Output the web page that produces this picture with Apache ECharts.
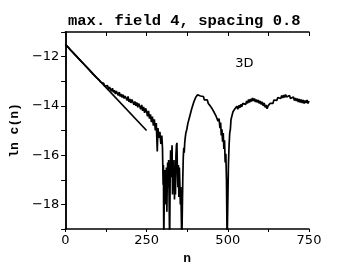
<!DOCTYPE html>
<html>
<head>
<meta charset="utf-8">
<script src="https://cdn.jsdelivr.net/npm/echarts@6/dist/echarts.min.js"></script>
<style>html,body{margin:0;padding:0;background:#fff}#c{width:360px;height:275px}</style>
</head>
<body>
<div id="c"></div>
<script>
const titleText = 'max. field 4, spacing 0.8';
const xName = 'n';
const yName = 'ln c(n)';
const annotation = '3D';
const annotationAt = [551, -12.3];
const xTicks = [0, 250, 500, 750];
const yTicks = [-18, -16, -14, -12];

const fitN = [0, 250];
const fitC = [-11.5, -15.0];

const curveN = [
0,5,10,15,20,25,30,35,40,45,50,55,60,65,70,75,80,85,90,95,
100,103,106,109,112,115,118,121,124,127,130,133,136,139,142,145,148,151,154,157,
160,163,166,169,172,175,178,181,184,187,190,193,196,199,202,205,208,211,214,217,
220,223,226,229,232,235,238,241,244,247,250,253,256,259,262,265,268,271,274,277,
280,283,285,288,291,294,297,299,
301,302,303,304.5,306,307,308.5,310,311,312.5,314,315,316.5,318,319.5,321,322.5,324,325.5,327,
328.5,330,331.5,333,334.5,336,337.5,339,340.5,342,343.5,345,346.5,348,349.5,351,352.5,354,355.5,357,
358.5,360,361.5,363,364.5,366,367.5,369,371,
374,377,380,383,386,389,392,395,398,401,404,407,410,413,416,419,422,425,428,431,
434,437,440,443,446,449,452,455,458,461,464,467,470,473,476,478,480,482,484,486,
488,490,492,494,496,498,500,502,504,506,508,510,513,516,519,522,525,528,531,534,
537,540,543,546,549,552,555,558,561,564,567,570,573,576,579,582,585,588,591,594,
597,600,603,606,609,612,615,618,621,624,627,630,633,636,639,642,645,648,651,654,
657,660,663,666,669,672,675,678,681,684,687,690,693,696,699,702,705,708,711,714,
717,720,723,726,729,732,735,738,741,744,747,750
];
const curveC = [
-11.50,-11.58,-11.63,-11.72,-11.77,-11.86,-11.91,-12.00,-12.05,-12.14,-12.19,-12.28,-12.33,-12.42,-12.47,-12.56,-12.60,-12.71,-12.74,-12.84,
-12.88,-12.93,-12.97,-13.04,-13.03,-13.12,-13.08,-13.20,-13.14,-13.27,-13.18,-13.33,-13.24,-13.30,-13.41,-13.28,-13.45,-13.36,-13.52,-13.40,
-13.47,-13.58,-13.44,-13.62,-13.52,-13.66,-13.55,-13.70,-13.60,-13.68,-13.78,-13.62,-13.84,-13.72,-13.88,-13.74,-13.80,-13.95,-13.82,-14.00,
-13.86,-14.06,-13.90,-13.98,-14.14,-13.96,-14.20,-14.04,-14.28,-14.10,-14.22,-14.42,-14.20,-14.52,-14.34,-14.66,-14.44,-14.80,-14.55,-15.00,
-14.70,-15.85,-14.90,-15.30,-15.05,-15.55,-15.20,-15.70,
-17.2,-16.4,-19.6,-17.8,-16.6,-18.0,-16.9,-17.6,-16.5,-18.3,-16.8,-16.3,-17.3,-16.2,-17.8,-19.6,-17.2,-15.8,-16.9,-16.1,
-15.6,-17.6,-16.4,-17.2,-16.2,-17.8,-16.7,-17.6,-16.0,-15.6,-15.5,-16.7,-17.3,-16.4,-17.7,-16.5,-17.2,-18.0,-17.3,-18.5,
-19.6,-19.6,-17.0,-16.1,-15.7,-15.9,-15.5,-15.3,-15.1,
-14.95,-14.72,-14.66,-14.42,-14.40,-14.12,-14.10,-13.86,-13.88,-13.66,-13.72,-13.55,-13.62,-13.48,-13.60,-13.52,-13.68,-13.62,-13.76,-13.68,
-13.84,-13.76,-13.90,-13.82,-14.00,-13.92,-14.12,-14.06,-14.26,-14.18,-14.42,-14.36,-14.62,-14.52,-14.90,-14.68,-15.20,-14.95,-15.45,-15.10,
-15.75,-15.40,-16.30,-15.95,-17.00,-19.60,-19.60,-16.40,-15.60,-15.10,-14.95,-14.55,-14.48,-14.24,-14.30,-14.12,-14.18,-14.02,-14.14,-13.98,
-14.08,-13.94,-14.04,-13.90,-13.98,-13.84,-13.94,-13.80,-13.90,-13.74,-13.86,-13.72,-13.82,-13.68,-13.80,-13.70,-13.84,-13.74,-13.86,-13.76,
-13.90,-13.80,-13.94,-13.84,-14.00,-13.88,-14.06,-13.96,-14.12,-14.00,-14.08,-13.90,-13.98,-13.82,-13.90,-13.76,-13.84,-13.70,-13.78,-13.66,
-13.74,-13.62,-13.70,-13.58,-13.68,-13.56,-13.66,-13.54,-13.64,-13.56,-13.68,-13.58,-13.70,-13.62,-13.74,-13.64,-13.78,-13.68,-13.80,-13.70,
-13.84,-13.72,-13.86,-13.74,-13.88,-13.76,-13.90,-13.78,-13.88,-13.76,-13.90,-13.80
];

const chart = echarts.init(document.getElementById('c'));
const mono = "'Liberation Mono', 'DejaVu Sans Mono', monospace";
const sans = "'DejaVu Sans', sans-serif";
const axisLine = {show: true, lineStyle: {color: '#000', width: 1.5}};
const fmtY = v => yTicks.indexOf(v) >= 0 ? String(v).replace('-', '\u2212') : '';
const fmtX = v => xTicks.indexOf(v) >= 0 ? String(v) : '';

chart.setOption({
  animation: false,
  title: {
    text: titleText, left: 63, top: 8,
    textStyle: {fontFamily: mono, fontWeight: 'bold', fontSize: 15.5, color: '#000'}
  },
  grid: {left: 64, right: 51, top: 32, bottom: 46, containLabel: false},
  xAxis: [
    {type: 'value', position: 'bottom', min: 0, max: 750, interval: 125,
     axisLine: axisLine, splitLine: {show: false},
     axisTick: {show: true, inside: false, length: 3, lineStyle: {color: '#000', width: 1}},
     axisLabel: {formatter: fmtX, fontFamily: sans, fontSize: 13, color: '#000', margin: 5},
     name: xName, nameLocation: 'middle', nameGap: 21,
     nameTextStyle: {fontFamily: mono, fontWeight: 'bold', fontSize: 13, color: '#000'}},
    {type: 'value', position: 'top', min: 0, max: 750, interval: 125,
     axisLine: axisLine, splitLine: {show: false},
     axisTick: {show: true, inside: true, length: 4, lineStyle: {color: '#000', width: 1}},
     axisLabel: {show: false}}
  ],
  yAxis: [
    {type: 'value', position: 'left', min: -19, max: -11, interval: 1,
     axisLine: axisLine, splitLine: {show: false},
     axisTick: {show: true, inside: false, length: 4, lineStyle: {color: '#000', width: 1}},
     axisLabel: {formatter: fmtY, fontFamily: sans, fontSize: 13, color: '#000', margin: 6},
     name: yName, nameLocation: 'middle', nameGap: 40, nameRotate: 90,
     nameTextStyle: {fontFamily: mono, fontWeight: 'bold', fontSize: 13, color: '#000'}},
    {type: 'value', position: 'right', min: -19, max: -11, interval: 1,
     axisLine: axisLine, splitLine: {show: false},
     axisTick: {show: true, inside: true, length: 4, lineStyle: {color: '#000', width: 1}},
     axisLabel: {show: false}}
  ],
  series: [
    {type: 'line', xAxisIndex: 0, yAxisIndex: 0, data: curveN.map((n, i) => [n, curveC[i]]),
     showSymbol: false, symbol: 'none', clip: true,
     lineStyle: {color: '#000', width: 1.7},
     markPoint: {symbol: 'circle', symbolSize: 0,
       data: [{coord: annotationAt, value: annotation}],
       label: {show: true, position: 'inside', formatter: annotation, fontFamily: sans, fontSize: 13, color: '#000'}}},
    {type: 'line', xAxisIndex: 0, yAxisIndex: 0, data: fitN.map((n, i) => [n, fitC[i]]),
     showSymbol: false, symbol: 'none', clip: true,
     lineStyle: {color: '#000', width: 1.7}}
  ]
});
</script>
</body>
</html>
